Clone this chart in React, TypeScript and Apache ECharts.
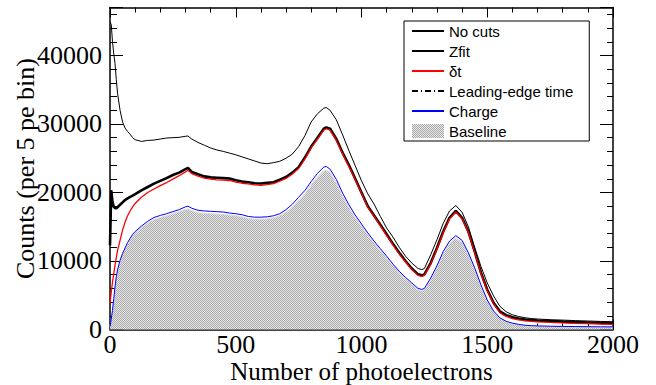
import React, { useEffect, useRef } from "react";
import * as echarts from "echarts";

// Bin positions (photoelectrons) at which the spectra are sampled
const pe = [
  0, 5, 10, 15, 20, 25, 30, 40, 50, 60, 70, 80, 90, 100,
  125, 150, 175, 200, 225, 250, 275, 300,
  310,
  325, 350, 375, 400, 425, 450, 475, 500, 525, 550, 575, 600, 625, 650, 675, 700, 725, 750, 775, 800, 825, 850,
  860,
  875, 900, 925, 950, 975, 1000, 1025, 1050, 1075, 1100, 1125, 1150, 1175, 1200, 1225,
  1240,
  1250, 1275, 1300, 1325, 1350, 1375, 1400, 1425, 1450, 1475, 1500, 1525, 1550, 1575, 1600, 1625, 1650, 1675, 1700,
  1750, 1800, 1850, 1900, 1950, 2000,
];

const noCuts = [
  44900, 44500, 42000, 40200, 38800, 36500, 34500, 32000, 30300, 29400, 28900, 28500, 28000, 27700,
  27450, 27600, 27650, 27800, 27950, 28000, 28050, 28200,
  28250,
  27800, 27300, 26900, 26500, 26200, 26000, 25750, 25500, 25200, 24900, 24600, 24300, 24200, 24350, 24550, 25000, 25600, 26700, 28300, 30300, 31500, 32300,
  32400,
  32000, 30600, 28400, 26100, 23900, 21700, 19800, 18300, 16500, 14800, 13500, 12000, 10700, 9700, 8900,
  8750,
  8900, 10900, 13100, 15500, 17300, 18100, 17100, 15000, 12000, 9200, 6800, 4900, 3400, 2600, 2150, 1900, 1720, 1600, 1530,
  1430, 1370, 1300, 1240, 1180, 1130,
];

const zfit = [
  12300, 20300, 18600, 17900, 17700, 17700, 17850, 18200, 18550, 18900, 19150, 19350, 19550, 19750,
  20300, 20800, 21300, 21700, 22100, 22550, 22900, 23400,
  23600,
  23000, 22650, 22350, 22200, 22150, 22100, 22050, 21800, 21600, 21500, 21350, 21300, 21400, 21500, 21850, 22250, 22900, 23700, 25100, 26700, 28000, 29300,
  29500,
  29300, 27800, 25800, 24000, 22000, 20000, 18000, 16650, 15300, 13900, 12500, 11200, 10000, 8900, 8050,
  7900,
  8050, 9700, 11900, 14300, 16300, 17300, 16300, 14300, 11400, 8300, 5800, 3900, 2650, 2100, 1800, 1600, 1470, 1380, 1320,
  1230, 1150, 1080, 1020, 960, 910,
];

const deltaT = [
  3800, 5500, 6900, 8200, 9400, 10500, 11500, 13000, 14500, 15700, 16600, 17300, 17900, 18400,
  19300, 20000, 20500, 21000, 21450, 21950, 22450, 23000,
  23250,
  22750, 22400, 22100, 21950, 21850, 21800, 21750, 21500, 21350, 21250, 21100, 21050, 21150, 21300, 21650, 22050, 22700, 23500, 24900, 26500, 27800, 29100,
  29300,
  29100, 27600, 25600, 23800, 21850, 19850, 17850, 16500, 15150, 13750, 12350, 11050, 9850, 8750, 7900,
  7750,
  7900, 9550, 11750, 14150, 16150, 17150, 16150, 14150, 11250, 8150, 5650, 3750, 2450, 1900, 1600, 1400, 1270, 1180, 1120,
  1030, 960, 900, 850, 800, 760,
];

const leadingEdge = [
  12300, 20300, 18600, 17900, 17700, 17700, 17850, 18200, 18550, 18900, 19150, 19350, 19550, 19750,
  20300, 20800, 21300, 21700, 22100, 22550, 22900, 23400,
  23600,
  23000, 22650, 22350, 22200, 22150, 22100, 22050, 21800, 21600, 21500, 21350, 21300, 21400, 21500, 21850, 22250, 22900, 23700, 25100, 26700, 28000, 29300,
  29500,
  29300, 27800, 25800, 24000, 22000, 20000, 18000, 16650, 15300, 13900, 12500, 11200, 10000, 8900, 8050,
  7900,
  8050, 9700, 11900, 14300, 16300, 17300, 16300, 14300, 11400, 8300, 5800, 3900, 2650, 2100, 1800, 1600, 1470, 1380, 1320,
  1230, 1150, 1080, 1020, 960, 910,
];

const charge = [
  400, 1500, 2800, 4500, 6200, 7700, 8700, 10100, 11100, 11900, 12700, 13300, 13900, 14300,
  15100, 15800, 16350, 16650, 16900, 17200, 17500, 17900,
  18000,
  17700, 17400, 17300, 17250, 17200, 17150, 17000, 16900, 16750, 16500, 16400, 16400, 16450, 16600, 16900, 17500, 18300, 19300, 20300, 21600, 22800, 23700,
  23800,
  23400, 21900, 19900, 18200, 16700, 15400, 14100, 12900, 11800, 10700, 9550, 8500, 7600, 6800, 6000,
  5850,
  6000, 7500, 9300, 11400, 12900, 13700, 13000, 11200, 9000, 6500, 4300, 2700, 1700, 1200, 930, 750, 620, 560, 520,
  480, 450, 430, 410, 390, 380,
];

const baseline = [
  350, 1400, 2700, 4400, 6100, 7600, 8600, 10000, 11000, 11800, 12550, 13150, 13700, 14100,
  14900, 15550, 16050, 16350, 16600, 16900, 17200, 17550,
  17600,
  17350, 17050, 16950, 16900, 16850, 16800, 16700, 16600, 16450, 16200, 16100, 16100, 16150, 16300, 16600, 17150, 17900, 18850, 19800, 21100, 22250, 23150,
  23250,
  22900, 21400, 19450, 17800, 16350, 15100, 13800, 12650, 11550, 10450, 9350, 8300, 7400, 6600, 5800,
  5650,
  5800, 7250, 9050, 11100, 12600, 13350, 12700, 10950, 8750, 6300, 4150, 2600, 1620, 1130, 870, 700, 580, 520, 480,
  440, 410, 390, 370, 350, 340,
];

const legendOrder = ["No cuts", "Zfit", "\u03b4t", "Leading-edge time", "Charge", "Baseline"];

const X_MIN = 0;
const X_MAX = 2000;
const Y_MIN = 0;
const Y_MAX = 47000;

const serif = "Liberation Serif";
const sans = "Liberation Sans";

function pairs(ys: number[]): [number, number][] {
  return pe.map((x, i) => [x, ys[i]]);
}

// Fine checkerboard used for the shaded histogram
function makeHatch(): any {
  const c = document.createElement("canvas");
  c.width = 2;
  c.height = 2;
  const ctx = c.getContext("2d");
  if (!ctx) return "#c6c6c6";
  ctx.fillStyle = "#e4e4e4";
  ctx.fillRect(0, 0, 2, 2);
  ctx.fillStyle = "#acacac";
  ctx.fillRect(0, 0, 1, 1);
  ctx.fillRect(1, 1, 1, 1);
  return { image: c, repeat: "repeat" };
}

const plain = (v: number) => String(v);

export default function App() {
  const ref = useRef<HTMLDivElement>(null);

  useEffect(() => {
    if (!ref.current) return;
    const chart = echarts.init(ref.current, undefined, { renderer: "svg" });
    const hatch = makeHatch();

    const tickCommon = { inside: true, lineStyle: { color: "#000", width: 1 } };
    const axisLine = { show: true, onZero: false, lineStyle: { color: "#000", width: 1.5 } };

    const lineSeries = (name: string, data: number[], color: string, width: number, type: any = "solid", z = 3) => ({
      name,
      type: "line",
      data: pairs(data),
      symbol: "none",
      showSymbol: false,
      z,
      color,
      lineStyle: { color, width, type },
      emphasis: { disabled: true },
    });

    chart.setOption({
      animation: false,
      backgroundColor: "#fff",
      grid: { left: 110, right: 43, top: 7.5, bottom: 55.5, containLabel: false, outerBoundsMode: "none" },
      legend: {
        left: 404,
        top: 21,
        orient: "vertical",
        backgroundColor: "#fff",
        borderColor: "#000",
        borderWidth: 1,
        padding: [0, 16, 0, 7],
        itemGap: 0,
        itemWidth: 32,
        itemHeight: 14,
        selectedMode: false,
        itemStyle: { opacity: 0 },
        textStyle: { fontFamily: sans, fontSize: 15, color: "#000", lineHeight: 20 },
        data: legendOrder.map((n) =>
          n === "Baseline"
            ? { name: n, icon: "rect", itemStyle: { color: hatch, borderWidth: 0, opacity: 1 } }
            : { name: n }
        ),
      },
      xAxis: [
        {
          type: "value",
          min: X_MIN,
          max: X_MAX,
          interval: 500,
          position: "bottom",
          name: "Number of photoelectrons",
          nameLocation: "middle",
          nameGap: 32,
          nameMoveOverlap: false,
          nameTextStyle: { fontFamily: serif, fontSize: 25, color: "#000", lineHeight: 20 },
          axisLine,
          axisTick: { ...tickCommon, length: 10 },
          minorTick: { show: true, splitNumber: 5, length: 6, lineStyle: { color: "#000", width: 1 } },
          axisLabel: { fontFamily: serif, fontSize: 26, color: "#000", margin: 5, lineHeight: 20, formatter: plain },
          splitLine: { show: false },
        },
        {
          type: "value",
          min: X_MIN,
          max: X_MAX,
          interval: 500,
          position: "top",
          axisLine,
          axisTick: { ...tickCommon, length: 10 },
          minorTick: { show: true, splitNumber: 5, length: 5, lineStyle: { color: "#000", width: 1 } },
          axisLabel: { show: false },
          splitLine: { show: false },
        },
      ],
      yAxis: [
        {
          type: "value",
          min: Y_MIN,
          max: Y_MAX,
          interval: 10000,
          position: "left",
          name: "Counts (per 5 pe bin)",
          nameLocation: "middle",
          nameGap: 74,
          nameMoveOverlap: false,
          nameTextStyle: { fontFamily: serif, fontSize: 26, color: "#000", lineHeight: 22 },
          axisLine,
          axisTick: { ...tickCommon, length: 13 },
          minorTick: { show: true, splitNumber: 5, length: 7, lineStyle: { color: "#000", width: 1 } },
          axisLabel: { fontFamily: serif, fontSize: 26, color: "#000", margin: 8, showMaxLabel: false, formatter: plain },
          splitLine: { show: false },
        },
        {
          type: "value",
          min: Y_MIN,
          max: Y_MAX,
          interval: 10000,
          position: "right",
          axisLine,
          axisTick: { ...tickCommon, length: 13 },
          minorTick: { show: true, splitNumber: 5, length: 6, lineStyle: { color: "#000", width: 1 } },
          axisLabel: { show: false },
          splitLine: { show: false },
        },
      ],
      series: [
        {
          name: "Baseline",
          type: "line",
          data: pairs(baseline),
          symbol: "none",
          showSymbol: false,
          z: 1,
          color: "#b8b8b8",
          lineStyle: { color: "#dcdcdc", width: 1.2 },
          areaStyle: { color: hatch, opacity: 1 },
          emphasis: { disabled: true },
        },
        lineSeries("Charge", charge, "#0000ff", 1, "solid", 2),
        lineSeries("Zfit", zfit, "#000000", 2.6, "solid", 3),
        lineSeries("Leading-edge time", leadingEdge, "#000000", 1, [6, 3, 1, 3], 4),
        lineSeries("\u03b4t", deltaT, "#ff0000", 1.3, "solid", 5),
        lineSeries("No cuts", noCuts, "#000000", 1, "solid", 6),
      ],
    });

    return () => chart.dispose();
  }, []);

  return (
    <div
      ref={ref}
      style={{ position: "fixed", left: 0, top: 0, width: 656, height: 385, background: "#fff" }}
    />
  );
}
